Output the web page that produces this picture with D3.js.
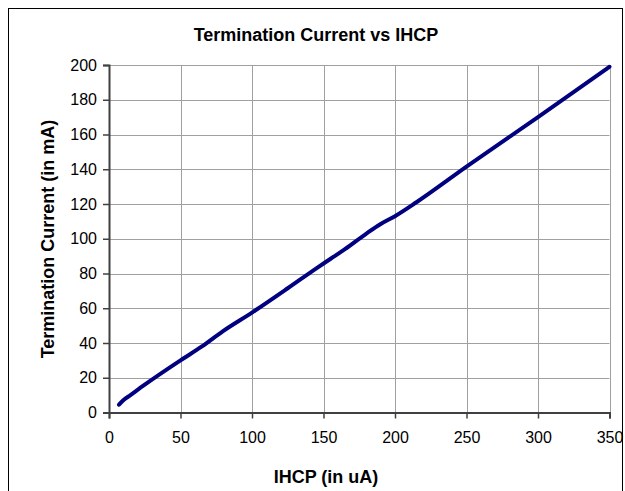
<!doctype html>
<html lang="en">
  <head>
    <meta charset="UTF-8" />
    <title>Termination Current vs IHCP</title>
    <style>
      body { margin: 0; background: #fff; }
      svg { display: block; font-family: "Liberation Sans", Arial, sans-serif; }
    </style>
  </head>
  <body>
    <svg id="chart"></svg>
    <script src="https://d3js.org/d3.v7.min.js"></script>
    <script>
      /* global d3 */

      // values
      const ihcp = [7, 10, 15, 25, 50, 65, 80, 100, 125, 145, 155, 165, 180, 190, 200, 215, 250, 300, 350];
      const current = [4.5, 7, 10, 16, 30, 38, 47, 57.5, 71.5, 83, 88.5, 94, 103, 108.5, 113, 121, 141.5, 170, 199];
      const xTicks = [0, 50, 100, 150, 200, 250, 300, 350];
      const yTicks = [0, 20, 40, 60, 80, 100, 120, 140, 160, 180, 200];

      const width = 625,
        height = 491;
      const margin = { left: 109, right: 15, top: 65, bottom: 79 };

      const svg = d3.select("#chart").attr("width", width).attr("height", height);

      // outer chart-area border
      svg.append("rect")
        .attr("x", 8.5).attr("y", 8.5)
        .attr("width", 614).attr("height", 500)
        .attr("fill", "none").attr("stroke", "#000");

      const xScale = d3.scaleLinear().domain([0, 350]).range([margin.left, width - margin.right - 0.5]);
      const yScale = d3.scaleLinear().domain([0, 200]).range([height - margin.bottom + 0.5, margin.top]);

      // grid
      const grid = svg.append("g").attr("stroke", "#a0a0a0").attr("stroke-width", 1);
      yTicks.slice(1).forEach((t) => {
        grid.append("line")
          .attr("x1", xScale(0)).attr("x2", xScale(350))
          .attr("y1", Math.round(yScale(t)) + 0.5).attr("y2", Math.round(yScale(t)) + 0.5);
      });
      xTicks.slice(1).forEach((t) => {
        grid.append("line")
          .attr("x1", Math.round(xScale(t)) + 0.5).attr("x2", Math.round(xScale(t)) + 0.5)
          .attr("y1", yScale(0)).attr("y2", yScale(200));
      });

      // axes
      const yAxis = svg.append("g")
        .attr("transform", `translate(${xScale(0)},0)`)
        .call(d3.axisLeft(yScale).tickValues(yTicks).tickSize(6).tickPadding(6));
      const xAxis = svg.append("g")
        .attr("transform", `translate(0,${yScale(0)})`)
        .call(d3.axisBottom(xScale).tickValues(xTicks).tickSize(6).tickPadding(13));

      [xAxis, yAxis].forEach((a) => {
        a.select(".domain").attr("stroke", "#404040").attr("stroke-width", 2);
        a.selectAll(".tick line").attr("stroke", "#404040").attr("stroke-width", 1.5);
        a.selectAll(".tick text")
          .attr("fill", "#000")
          .style("font-size", "16px")
          .style("font-family", "'Liberation Sans', Arial, sans-serif");
      });

      // data line
      const data = ihcp.map((d, i) => ({ x: d, y: current[i] }));
      svg.append("path")
        .datum(data)
        .attr("fill", "none")
        .attr("stroke", "#000080")
        .attr("stroke-width", 4)
        .attr("stroke-linecap", "round")
        .attr("d", d3.line().x((d) => xScale(d.x)).y((d) => yScale(d.y)).curve(d3.curveMonotoneX));

      // titles
      svg.append("text")
        .attr("x", 316).attr("y", 41)
        .attr("text-anchor", "middle")
        .style("font-size", "18px").style("font-weight", "bold")
        .text("Termination Current vs IHCP");

      svg.append("text")
        .attr("x", 326).attr("y", 483)
        .attr("text-anchor", "middle")
        .style("font-size", "18px").style("font-weight", "bold")
        .text("IHCP (in uA)");

      svg.append("text")
        .attr("transform", "translate(54,239) rotate(-90)")
        .attr("text-anchor", "middle")
        .style("font-size", "18px").style("font-weight", "bold")
        .text("Termination Current (in mA)");
    </script>
  </body>
</html>
